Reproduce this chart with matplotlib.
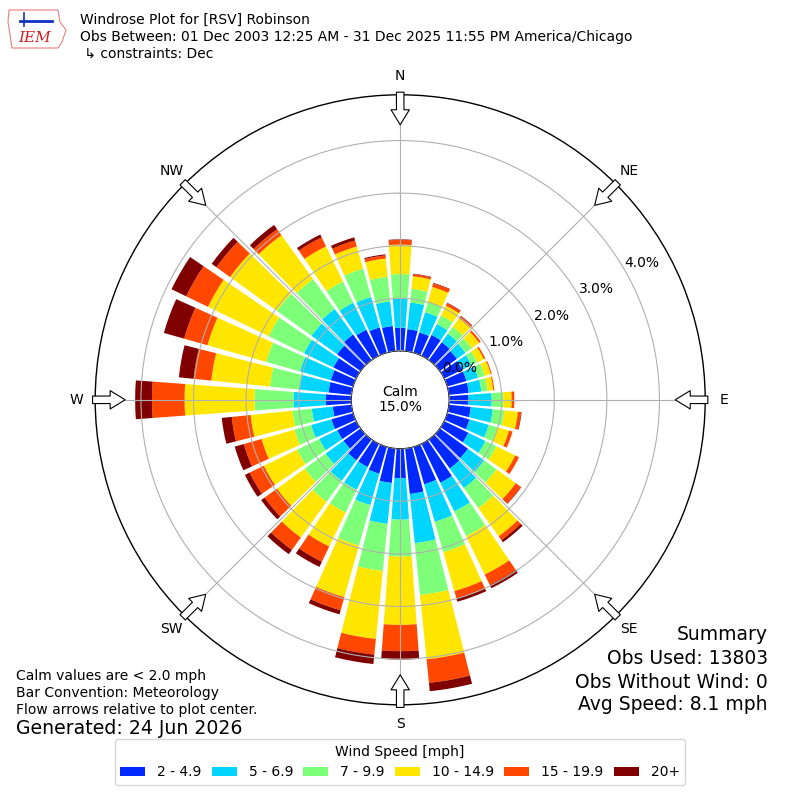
import numpy as np
import matplotlib
matplotlib.use('Agg')
import matplotlib.pyplot as plt
from matplotlib.patches import Circle, Polygon, Patch

# wind directions (deg, meteorological) and percent frequency per speed bin
directions = np.arange(0, 360, 10)
speed_labels = ['2 - 4.9', '5 - 6.9', '7 - 9.9', '10 - 14.9', '15 - 19.9', '20+']

spd_2 = [0.44, 0.42, 0.40, 0.44, 0.42, 0.40, 0.38, 0.38, 0.38, 0.37, 0.42, 0.44,
         0.51, 0.66, 0.68, 0.82, 0.74, 0.87, 0.56, 0.66, 0.53, 0.49, 0.49, 0.40,
         0.40, 0.43, 0.36, 0.49, 0.44, 0.44, 0.48, 0.55, 0.60, 0.55, 0.50, 0.48]
spd_5 = [0.55, 0.51, 0.40, 0.23, 0.20, 0.20, 0.20, 0.23, 0.24, 0.44, 0.42, 0.38,
         0.36, 0.38, 0.46, 0.61, 0.74, 0.94, 0.79, 0.78, 0.62, 0.48, 0.48, 0.42,
         0.38, 0.40, 0.40, 0.61, 0.55, 0.61, 0.62, 0.60, 0.60, 0.57, 0.60, 0.47]
spd_7 = [0.47, 0.26, 0.20, 0.18, 0.16, 0.15, 0.12, 0.13, 0.12, 0.22, 0.22, 0.17,
         0.23, 0.29, 0.47, 0.52, 0.60, 0.99, 0.70, 0.90, 0.80, 0.48, 0.49, 0.49,
         0.47, 0.33, 0.37, 0.74, 0.57, 0.67, 0.75, 0.81, 0.70, 0.45, 0.56, 0.47]
spd_10 = [0.56, 0.24, 0.30, 0.21, 0.20, 0.17, 0.14, 0.12, 0.11, 0.16, 0.26, 0.23,
          0.40, 0.45, 0.66, 0.81, 0.77, 1.23, 1.30, 1.30, 1.02, 0.72, 0.84, 0.65,
          0.70, 0.65, 0.80, 1.33, 1.12, 1.16, 1.28, 1.10, 1.03, 0.74, 0.44, 0.35]
spd_15 = [0.09, 0.04, 0.07, 0.05, 0.05, 0.04, 0.03, 0.02, 0.02, 0.05, 0.06, 0.07,
          0.08, 0.12, 0.09, 0.22, 0.15, 0.45, 0.50, 0.30, 0.26, 0.32, 0.29, 0.29,
          0.30, 0.35, 0.36, 0.62, 0.34, 0.46, 0.46, 0.32, 0.14, 0.19, 0.12, 0.06]
spd_20 = [0.01, 0.01, 0.01, 0.01, 0.01, 0.00, 0.00, 0.00, 0.00, 0.00, 0.01, 0.00,
          0.00, 0.01, 0.05, 0.07, 0.06, 0.16, 0.16, 0.18, 0.08, 0.11, 0.10, 0.08,
          0.10, 0.18, 0.19, 0.32, 0.28, 0.40, 0.31, 0.11, 0.10, 0.06, 0.06, 0.02]

calm_pct = 15.0
obs_used = 13803
obs_nowind = 0
avg_speed = 8.1

compass = ['N', 'NE', 'E', 'SE', 'S', 'SW', 'W', 'NW']

colors = plt.cm.jet(np.linspace(0, 1, 7)[1:])

fig = plt.figure(figsize=(8, 8), dpi=100)
ax = fig.add_axes([0.119, 0.119, 0.7625, 0.7625], projection='polar')
ax.set_theta_zero_location('N')
ax.set_theta_direction(-1)
ax.set_rorigin(-0.93)
ax.set_ylim(0, 4.87)

theta = np.radians(directions)
width = np.radians(8.4)
bottom = np.zeros(len(directions))
for vals, c in zip([spd_2, spd_5, spd_7, spd_10, spd_15, spd_20], colors):
    ax.bar(theta, vals, width=width, bottom=bottom, color=c, linewidth=0, zorder=2)
    bottom += np.array(vals)

# grid
ax.set_axisbelow(False)
ax.grid(True, color='#b0b0b0', linewidth=0.8, zorder=3)
ax.set_xticks(np.radians(np.arange(0, 360, 45)))
ax.set_xticklabels(compass, fontsize=10)
ax.tick_params(axis='x', pad=3)
ax.set_yticks([0, 1, 2, 3, 4])
ax.set_yticklabels(['0.0%', '1.0%', '2.0%', '3.0%', '4.0%'], fontsize=10)
ax.set_rlabel_position(60)
for lab in ax.get_yticklabels():
    lab.set_ha('left')
    lab.set_va('bottom')
ax.spines['polar'].set_linewidth(1.0)

# calm circle
ax.add_patch(Circle((0.5, 0.5), 48 / 610, transform=ax.transAxes,
                    facecolor='white', edgecolor='black', linewidth=1, zorder=5))
ax.text(0.5, 0.5, 'Calm\n%.1f%%' % calm_pct, transform=ax.transAxes,
        ha='center', va='center', fontsize=10, zorder=6, linespacing=1.1)

# flow arrows at the compass points
for ang in np.arange(0, 360, 45):
    ax.annotate('', xy=(np.radians(ang), 4.3), xytext=(np.radians(ang), 4.92),
                arrowprops=dict(arrowstyle='simple,head_length=0.9,head_width=1.1,tail_width=0.45',
                                fc='white', ec='black', lw=0.8, shrinkA=0, shrinkB=0,
                                mutation_scale=12),
                annotation_clip=False, zorder=7)

# header
fig.text(80 / 800, 1 - 20 / 800, 'Windrose Plot for [RSV] Robinson', fontsize=10, va='center')
fig.text(80 / 800, 1 - 37 / 800,
         'Obs Between: 01 Dec 2003 12:25 AM - 31 Dec 2025 11:55 PM America/Chicago',
         fontsize=10, va='center')
fig.text(80 / 800, 1 - 54 / 800, ' \u21b3 constraints: Dec', fontsize=10, va='center')

# logo (rough)
iowa = [(9, 10), (58, 10), (60, 22), (66, 30), (62, 42), (58, 48), (12, 48), (10, 35), (8, 22)]
fig.patches.append(Polygon([(x / 800, 1 - y / 800) for x, y in iowa], closed=True,
                           transform=fig.transFigure, fill=False, ec='#e88080', lw=0.8))
fig.text(35 / 800, 1 - 38 / 800, 'IEM', fontsize=11, color='#d02020', style='italic',
         family='DejaVu Serif', ha='center', va='center')
fig.lines.append(plt.Line2D([20 / 800, 52 / 800], [1 - 21 / 800, 1 - 21 / 800],
                            transform=fig.transFigure, color='#1030c0', lw=2))
fig.lines.append(plt.Line2D([24 / 800, 24 / 800], [1 - 13 / 800, 1 - 26 / 800],
                            transform=fig.transFigure, color='#1030c0', lw=1.2))

# bottom left notes
fig.text(16 / 800, 1 - 676 / 800, 'Calm values are < 2.0 mph', fontsize=10, va='center')
fig.text(16 / 800, 1 - 693 / 800, 'Bar Convention: Meteorology', fontsize=10, va='center')
fig.text(16 / 800, 1 - 710 / 800, 'Flow arrows relative to plot center.', fontsize=10, va='center')
fig.text(16 / 800, 1 - 729 / 800, 'Generated: 24 Jun 2026', fontsize=13.6, va='center')

# summary
for y, s in [(635, 'Summary'), (659, 'Obs Used: %d' % obs_used),
             (682, 'Obs Without Wind: %d' % obs_nowind),
             (705, 'Avg Speed: %.1f mph' % avg_speed)]:
    fig.text(768 / 800, 1 - y / 800, s, fontsize=13.5, ha='right', va='center')

# legend
handles = [Patch(facecolor=c, label=l) for c, l in zip(colors, speed_labels)]
fig.legend(handles=handles, loc='lower center', bbox_to_anchor=(0.5, 0.01), ncol=6,
           title='Wind Speed [mph]', fontsize=10, title_fontsize=10, handlelength=1.8,
           handleheight=0.6, columnspacing=0.75, handletextpad=0.85)

fig.savefig('out.png', dpi=100)
